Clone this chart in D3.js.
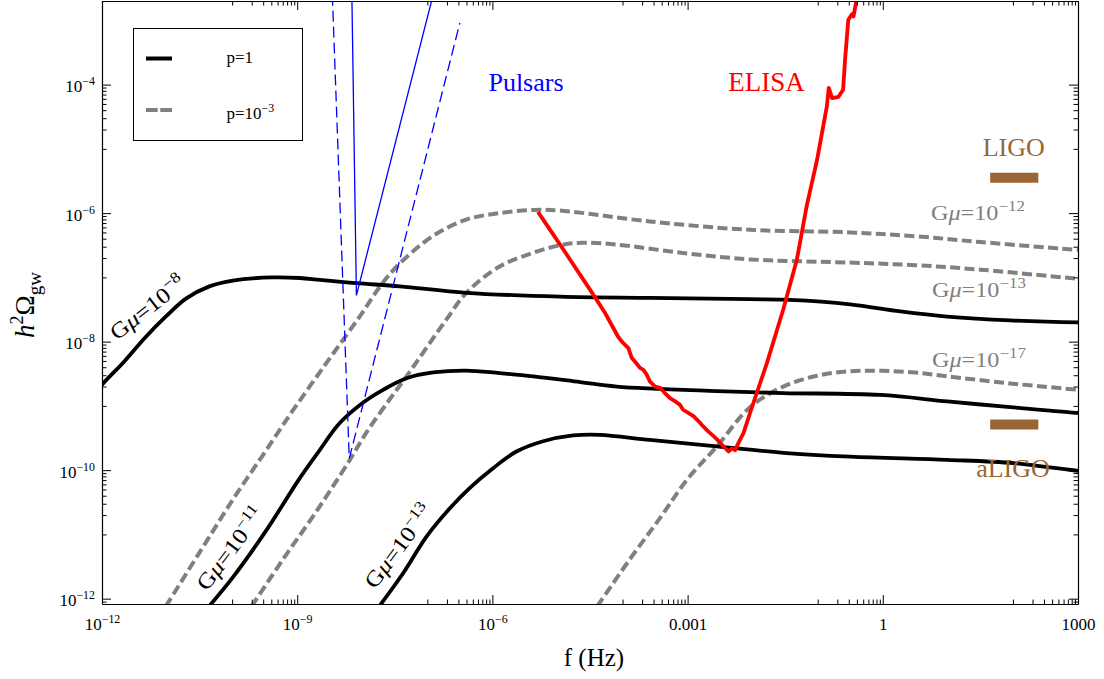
<!DOCTYPE html>
<html>
<head>
<meta charset="utf-8">
<script src="https://cdn.jsdelivr.net/npm/d3@7/dist/d3.min.js"></script>
<style>
html,body{margin:0;padding:0;background:#fff;}
svg{display:block;}
text{font-family:"Liberation Serif","Times New Roman",Times,serif;}
</style>
</head>
<body>
<svg id="chart" width="1104" height="679"></svg>
<script>
// ---------------- data ----------------
// axis domains
const xDomain = [1e-12, 1e3];
const yDomain = [8.26e-13, 2.0e-3];

// major ticks and their labels  [base, superscript]
const xMajor = [1e-12, 1e-9, 1e-6, 1e-3, 1, 1e3];
const xMajorLabels = [["10", "−12"], ["10", "−9"], ["10", "−6"], ["0.001", ""], ["1", ""], ["1000", ""]];
const yMajor = [1e-12, 1e-10, 1e-8, 1e-6, 1e-4];
const yMajorLabels = [["10", "−12"], ["10", "−10"], ["10", "−8"], ["10", "−6"], ["10", "−4"]];
const minorMultipliers = [1, 2, 3, 4, 5, 6, 7, 8, 9];

// curves: pairs [log10 f(Hz), log10 h^2 Omega_gw]
// p = 1 (solid black)
const p1_Gmu1e8 = [[-12.05,-8.74],[-12.00,-8.67],[-11.65,-8.30],[-11.35,-7.95],[-11.01,-7.60],[-10.71,-7.33],[-10.35,-7.14],[-9.99,-7.05],[-9.38,-7.00],[-8.96,-7.01],[-8.65,-7.04],[-8.09,-7.09],[-7.42,-7.14],[-6.40,-7.24],[-4.96,-7.30],[-3.58,-7.32],[-2.04,-7.34],[-1.42,-7.35],[-0.50,-7.42],[0.27,-7.53],[0.99,-7.61],[1.96,-7.67],[3.00,-7.70],[3.05,-7.70]];
const p1_Gmu1e11 = [[-10.38,-12.15],[-9.99,-11.67],[-9.47,-10.93],[-8.99,-10.17],[-8.69,-9.74],[-8.35,-9.27],[-7.99,-8.95],[-7.68,-8.75],[-7.32,-8.57],[-6.91,-8.48],[-6.40,-8.45],[-5.89,-8.49],[-5.37,-8.54],[-4.65,-8.63],[-4.09,-8.70],[-2.55,-8.77],[-1.53,-8.80],[-0.04,-8.83],[0.99,-8.93],[1.96,-9.02],[3.00,-9.11],[3.05,-9.11]];
const p1_Gmu1e13 = [[-7.74,-12.12],[-7.37,-11.60],[-7.01,-11.03],[-6.65,-10.59],[-6.35,-10.28],[-5.99,-9.97],[-5.63,-9.71],[-5.22,-9.55],[-4.76,-9.46],[-4.35,-9.45],[-3.58,-9.53],[-2.55,-9.63],[-1.53,-9.73],[-0.50,-9.79],[0.99,-9.84],[2.01,-9.89],[3.00,-10.01],[3.05,-10.01]];
// p = 1e-3 (dashed grey)
const p3_Gmu1e12 = [[-11.02,-12.12],[-10.50,-11.28],[-9.99,-10.46],[-9.47,-9.68],[-9.12,-9.15],[-8.55,-8.33],[-8.04,-7.61],[-7.69,-7.09],[-7.42,-6.78],[-6.92,-6.36],[-6.40,-6.10],[-5.89,-6.00],[-5.38,-5.95],[-4.96,-5.96],[-3.58,-6.13],[-2.04,-6.26],[-0.50,-6.30],[0.50,-6.36],[1.50,-6.45],[3.00,-6.57],[3.05,-6.57]];
const p3_Gmu1e13 = [[-9.70,-12.12],[-9.22,-11.39],[-8.71,-10.65],[-8.19,-9.84],[-7.94,-9.42],[-7.58,-8.90],[-7.32,-8.54],[-6.71,-7.66],[-6.40,-7.24],[-5.89,-6.83],[-5.38,-6.62],[-4.96,-6.50],[-4.61,-6.46],[-4.09,-6.49],[-3.07,-6.62],[-2.04,-6.72],[-0.50,-6.77],[0.50,-6.81],[1.50,-6.88],[3.00,-7.02],[3.05,-7.02]];
const p3_Gmu1e17 = [[-4.39,-12.12],[-3.89,-11.39],[-3.42,-10.74],[-3.01,-10.15],[-2.55,-9.63],[-2.04,-9.02],[-1.53,-8.70],[-1.01,-8.53],[-0.50,-8.46],[0.00,-8.455],[0.50,-8.48],[0.99,-8.54],[1.96,-8.65],[3.00,-8.75],[3.05,-8.755]];
// eLISA sensitivity (red)
const elisa = [[-5.30,-5.98],[-4.96,-6.49],[-4.50,-7.19],[-4.27,-7.55],[-4.07,-7.92],[-4.01,-8.00],[-3.91,-8.10],[-3.86,-8.25],[-3.81,-8.31],[-3.73,-8.41],[-3.68,-8.44],[-3.63,-8.51],[-3.58,-8.62],[-3.50,-8.70],[-3.42,-8.72],[-3.35,-8.80],[-3.27,-8.88],[-3.19,-8.93],[-3.12,-8.98],[-3.07,-9.06],[-2.99,-9.11],[-2.91,-9.16],[-2.83,-9.24],[-2.76,-9.32],[-2.68,-9.40],[-2.60,-9.47],[-2.53,-9.54],[-2.45,-9.63],[-2.37,-9.71],[-2.32,-9.66],[-2.27,-9.69],[-2.22,-9.58],[-2.14,-9.42],[-2.04,-9.11],[-1.78,-8.33],[-1.53,-7.50],[-1.32,-6.72],[-1.17,-5.89],[-1.01,-5.17],[-0.86,-4.34],[-0.83,-4.05],[-0.78,-4.21],[-0.68,-4.19],[-0.61,-4.08],[-0.58,-3.61],[-0.53,-2.99],[-0.47,-2.90],[-0.45,-2.94],[-0.39,-2.60]];
// pulsar timing bounds (blue)
const pulsarNow = [[-8.16,-2.60],[-8.09,-7.28],[-6.91,-2.60]];
const pulsarSKA = [[-8.46,-2.60],[-8.20,-9.82],[-6.50,-3.04]];
// LIGO bands (brown)
const ligoBand = [[1.65,-5.45],[2.39,-5.45]];
const aligoBand = [[1.65,-9.29],[2.39,-9.29]];

// text
const legendLabels = [["p=1", ""], ["p=10", "−3"]];
const blackCurveLabels = ["−8", "−11", "−13"];
const greyCurveLabels = ["−12", "−13", "−17"];
const detectorLabels = ["Pulsars", "ELISA", "LIGO", "aLIGO"];

// ---------------- drawing ----------------
const svg = d3.select("#chart");
const L = 102, R = 1078, T = 1, B = 604;
const x = d3.scaleLog().domain(xDomain).range([L, R]);
const y = d3.scaleLog().domain(yDomain).range([B, T]);
const toPts = arr => arr.map(([a, b]) => [Math.pow(10, a), Math.pow(10, b)]);
const line = d3.line().x(d => x(d[0])).y(d => y(d[1]));
const smooth = d3.line().curve(d3.curveCatmullRom.alpha(0.5)).x(d => x(d[0])).y(d => y(d[1]));

const GREY = "#808080", BROWN = "#996633";

svg.append("rect").attr("width", 1104).attr("height", 679).attr("fill", "#fff");
svg.append("defs").append("clipPath").attr("id", "plotclip")
  .append("rect").attr("x", L).attr("y", T).attr("width", R - L).attr("height", B - T);

const plot = svg.append("g").attr("clip-path", "url(#plotclip)");

// grey dashed (p=1e-3)
[p3_Gmu1e12, p3_Gmu1e13, p3_Gmu1e17].forEach(c => {
  plot.append("path").datum(toPts(c)).attr("d", smooth)
    .attr("fill", "none").attr("stroke", GREY).attr("stroke-width", 4)
    .attr("stroke-dasharray", "10,4.4").attr("stroke-linejoin", "round");
});
// black solid (p=1)
[p1_Gmu1e8, p1_Gmu1e11, p1_Gmu1e13].forEach(c => {
  plot.append("path").datum(toPts(c)).attr("d", smooth)
    .attr("fill", "none").attr("stroke", "#000").attr("stroke-width", 3.8).attr("stroke-linejoin", "round");
});
// pulsars
plot.append("path").datum(toPts(pulsarNow)).attr("d", line)
  .attr("fill", "none").attr("stroke", "#0000ff").attr("stroke-width", 1.3);
plot.append("path").datum(toPts(pulsarSKA)).attr("d", line)
  .attr("fill", "none").attr("stroke", "#0000ff").attr("stroke-width", 1.3).attr("stroke-dasharray", "11,5");
// eLISA
plot.append("path").datum(toPts(elisa)).attr("d", line)
  .attr("fill", "none").attr("stroke", "#ff0000").attr("stroke-width", 3.8).attr("stroke-linejoin", "round");
// LIGO bands
[ligoBand, aligoBand].forEach(c => {
  plot.append("path").datum(toPts(c)).attr("d", line)
    .attr("fill", "none").attr("stroke", BROWN).attr("stroke-width", 10);
});

// ---------------- axes / frame ----------------
const minorOf = (majors, dom) => {
  const out = [];
  majors.forEach(v => minorMultipliers.forEach(m => {
    const t = m * v / 10;
    if (t >= dom[0] * 0.999 && t <= dom[1] * 1.001) out.push(t);
  }));
  return out;
};
const xMinor = minorOf(xMajor, xDomain);
const yMinor = minorOf(yMajor, yDomain);

function addAxis(gen, scale, majors, minors, transform) {
  const g = svg.append("g").attr("transform", transform);
  g.call(gen(scale).tickValues(majors).tickSizeInner(-9).tickSizeOuter(0).tickFormat(""));
  const gm = svg.append("g").attr("transform", transform);
  gm.call(gen(scale).tickValues(minors).tickSizeInner(-4.5).tickSizeOuter(0).tickFormat(""));
  gm.select(".domain").remove();
  [g, gm].forEach(s => { s.selectAll("line").attr("stroke", "#000").attr("stroke-width", 1); s.selectAll(".domain").attr("stroke", "#000").attr("stroke-width", 1.2); });
}
addAxis(d3.axisBottom, x, xMajor, xMinor, `translate(0,${B})`);
addAxis(d3.axisTop, x, xMajor, xMinor, `translate(0,${T})`);
addAxis(d3.axisLeft, y, yMajor, yMinor, `translate(${L},0)`);
addAxis(d3.axisRight, y, yMajor, yMinor, `translate(${R},0)`);

// power-label helper
function powLabel(t, base, exp, size) {
  t.append("tspan").text(base);
  if (exp) t.append("tspan").attr("font-size", size * 0.7).attr("dy", -size * 0.4).text(exp);
}

// x tick labels
xMajor.forEach((v, i) => {
  const t = svg.append("text").attr("x", x(v) + 0.5).attr("y", 630)
    .attr("text-anchor", "middle").attr("font-size", 17).attr("fill", "#000");
  powLabel(t, xMajorLabels[i][0], xMajorLabels[i][1], 17);
});
// y tick labels
yMajor.forEach((v, i) => {
  const t = svg.append("text").attr("x", 95).attr("y", y(v) + 7.5)
    .attr("text-anchor", "end").attr("font-size", 17).attr("fill", "#000");
  powLabel(t, yMajorLabels[i][0], yMajorLabels[i][1], 17);
});

// axis titles
svg.append("text").attr("x", 594).attr("y", 666).attr("text-anchor", "middle")
  .attr("font-size", 25).text("f (Hz)");
{
  const t = svg.append("text").attr("transform", "translate(34,305) rotate(-90)")
    .attr("text-anchor", "middle").attr("font-size", 27);
  t.append("tspan").attr("font-style", "italic").text("h");
  t.append("tspan").attr("font-size", 18).attr("dy", -11).text("2");
  t.append("tspan").attr("dy", 11).text("Ω");
  t.append("tspan").attr("font-size", 19).attr("dy", 7).text("gw");
}

// legend
svg.append("rect").attr("x", 133.5).attr("y", 28.5).attr("width", 169).attr("height", 112)
  .attr("fill", "#fff").attr("stroke", "#000").attr("stroke-width", 1);
svg.append("line").attr("x1", 146).attr("x2", 172).attr("y1", 58.5).attr("y2", 58.5)
  .attr("stroke", "#000").attr("stroke-width", 4);
svg.append("line").attr("x1", 146).attr("x2", 172).attr("y1", 110).attr("y2", 110)
  .attr("stroke", GREY).attr("stroke-width", 4).attr("stroke-dasharray", "11.7,2.6");
legendLabels.forEach((lab, i) => {
  const t = svg.append("text").attr("x", 226.5).attr("y", i === 0 ? 62.5 : 118.5).attr("font-size", 17);
  powLabel(t, lab[0], lab[1], 17);
});

// G mu labels
function gmuLabel(tx, ty, angle, exp, color, size, sx) {
  const t = svg.append("text")
    .attr("transform", `translate(${tx},${ty}) rotate(${angle}) scale(${sx},1)`)
    .attr("fill", color).attr("font-size", size);
  t.append("tspan").text("G");
  t.append("tspan").attr("font-style", "italic").text("μ");
  t.append("tspan").text("=10");
  t.append("tspan").attr("font-size", size * 0.7).attr("dy", -size * 0.42).text(exp);
}
gmuLabel(117, 341, -38, blackCurveLabels[0], "#000", 22, 1.15);
gmuLabel(207, 592, -53, blackCurveLabels[1], "#000", 22, 1.15);
gmuLabel(375, 590, -53, blackCurveLabels[2], "#000", 22, 1.15);
gmuLabel(931, 220, 0, greyCurveLabels[0], GREY, 20.5, 1.18);
gmuLabel(932, 296.5, 0, greyCurveLabels[1], GREY, 20.5, 1.18);
gmuLabel(932, 366.5, 0, greyCurveLabels[2], GREY, 20.5, 1.18);

// detector labels
svg.append("text").attr("x", 526).attr("y", 90.7).attr("text-anchor", "middle")
  .attr("font-size", 26).attr("fill", "#0000ff").text(detectorLabels[0]);
svg.append("text").attr("x", 766.5).attr("y", 90.7).attr("text-anchor", "middle")
  .attr("font-size", 27).attr("fill", "#ff0000").text(detectorLabels[1]);
svg.append("text").attr("x", 1013.7).attr("y", 156).attr("text-anchor", "middle")
  .attr("font-size", 26).attr("fill", BROWN).text(detectorLabels[2]);
svg.append("text").attr("x", 1013).attr("y", 476.7).attr("text-anchor", "middle")
  .attr("font-size", 26).attr("fill", BROWN).text(detectorLabels[3]);
</script>
</body>
</html>
